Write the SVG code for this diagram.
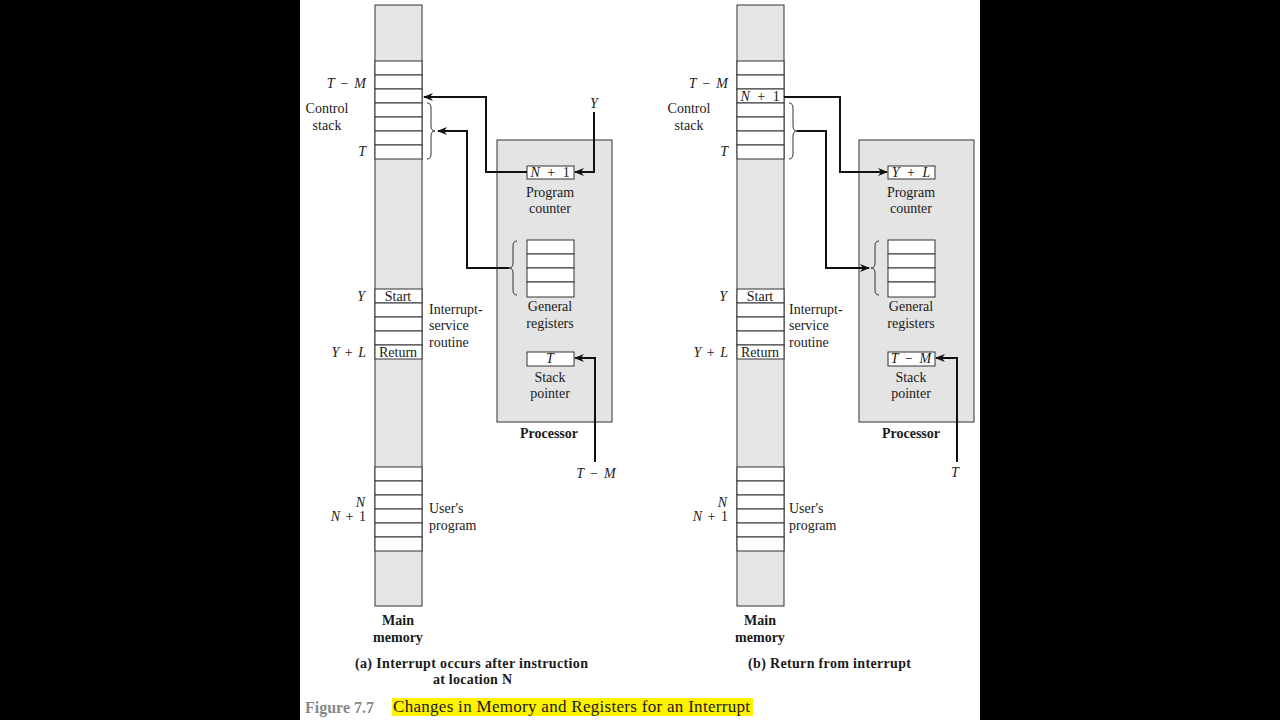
<svg xmlns="http://www.w3.org/2000/svg" width="1280" height="720" viewBox="0 0 1280 720">
<defs>
<style>
text{font-family:"Liberation Serif","Times New Roman",serif;font-size:14px;fill:#1a1a1a}
.b{font-weight:bold}
.i{font-style:italic}
.m{text-anchor:middle}
.e{text-anchor:end}
.mem{fill:#e6e6e6;stroke:#333;stroke-width:1}
.cell{fill:#fff;stroke:#333;stroke-width:1}
.proc{fill:#e4e4e4;stroke:#333;stroke-width:1}
.brace{fill:none;stroke:#333;stroke-width:1}
.wire{fill:none;stroke:#111;stroke-width:2;marker-end:url(#ah)}
</style>
<marker id="ah" viewBox="0 0 10 8" refX="9" refY="4" markerWidth="10" markerHeight="8" markerUnits="userSpaceOnUse" orient="auto">
<path d="M0,0 L10,4 L0,8 L3,4 Z" fill="#111"/>
</marker>
</defs>
<rect x="0" y="0" width="1280" height="720" fill="#000"/>
<rect x="300" y="0" width="680" height="720" fill="#fff"/>

<!-- ===== Panel (a) ===== -->
<g id="memory-a">
<rect class="mem" x="375" y="5" width="47" height="601"/>
<rect class="cell" x="375" y="61" width="47" height="14"/>
<rect class="cell" x="375" y="75" width="47" height="14"/>
<rect class="cell" x="375" y="89" width="47" height="14"/>
<rect class="cell" x="375" y="103" width="47" height="14"/>
<rect class="cell" x="375" y="117" width="47" height="14"/>
<rect class="cell" x="375" y="131" width="47" height="14"/>
<rect class="cell" x="375" y="145" width="47" height="14"/>
<rect class="cell" x="375" y="289" width="47" height="14"/>
<rect class="cell" x="375" y="303" width="47" height="14"/>
<rect class="cell" x="375" y="317" width="47" height="14"/>
<rect class="cell" x="375" y="331" width="47" height="14"/>
<rect class="cell" x="375" y="345" width="47" height="14"/>
<rect class="cell" x="375" y="467" width="47" height="14"/>
<rect class="cell" x="375" y="481" width="47" height="14"/>
<rect class="cell" x="375" y="495" width="47" height="14"/>
<rect class="cell" x="375" y="509" width="47" height="14"/>
<rect class="cell" x="375" y="523" width="47" height="14"/>
<rect class="cell" x="375" y="537" width="47" height="14"/>
<text class="m" x="398" y="301">Start</text>
<text class="m" x="398" y="357">Return</text>
<text class="e" x="366" y="88"><tspan class="i">T</tspan><tspan dx="2.5"> − </tspan><tspan class="i" dx="2.5">M</tspan></text>
<text class="m" x="327" y="113">Control</text>
<text class="m" x="327" y="130">stack</text>
<text class="e i" x="366" y="156">T</text>
<text class="e i" x="365" y="301">Y</text>
<text class="e" x="366" y="357"><tspan class="i">Y</tspan><tspan dx="2"> + </tspan><tspan class="i" dx="2">L</tspan></text>
<text class="e i" x="365" y="507">N</text>
<text class="e" x="366" y="521"><tspan class="i">N</tspan><tspan dx="2"> + </tspan><tspan dx="2">1</tspan></text>
<text x="429" y="314">Interrupt-</text>
<text x="429" y="330">service</text>
<text x="429" y="347">routine</text>
<text x="429" y="513">User's</text>
<text x="429" y="530">program</text>
<text class="b m" x="398" y="625">Main</text>
<text class="b m" x="398" y="642">memory</text>
<path class="brace" d="M427,103 q4,0 4,5 v18 q0,5 4,5 q-4,0 -4,5 v18 q0,5 -4,5"/>
</g>

<g id="processor-a">
<rect class="proc" x="497" y="140" width="115" height="282"/>
<rect class="cell" x="527" y="166" width="47" height="13"/>
<text class="m" x="550" y="177"><tspan class="i">N</tspan><tspan dx="4"> + </tspan><tspan dx="4">1</tspan></text>
<text class="m" x="550" y="197">Program</text>
<text class="m" x="550" y="213">counter</text>
<rect class="cell" x="527" y="240" width="47" height="14"/>
<rect class="cell" x="527" y="254" width="47" height="14"/>
<rect class="cell" x="527" y="268" width="47" height="14"/>
<rect class="cell" x="527" y="282" width="47" height="15"/>
<path class="brace" d="M517,241 q-4,0 -4,5 v17 q0,5 -4,5 q4,0 4,5 v17 q0,5 4,5"/>
<text class="m" x="550" y="311">General</text>
<text class="m" x="550" y="328">registers</text>
<rect class="cell" x="527" y="352" width="47" height="14"/>
<text class="m i" x="550" y="363">T</text>
<text class="m" x="550" y="382">Stack</text>
<text class="m" x="550" y="398">pointer</text>
<text class="b m" x="549" y="438">Processor</text>
</g>
<text class="i m" x="594" y="108">Y</text>
<text class="m" x="596" y="478"><tspan class="i">T</tspan><tspan dx="2.5"> − </tspan><tspan class="i" dx="2.5">M</tspan></text>
<text class="b" x="355" y="668" textLength="233" lengthAdjust="spacing">(a)  Interrupt occurs after instruction</text>
<text class="b" x="433" y="684" textLength="79" lengthAdjust="spacing">at location N</text>

<!-- ===== Panel (b) ===== -->
<g id="memory-b">
<rect class="mem" x="737" y="5" width="47" height="601"/>
<rect class="cell" x="737" y="61" width="47" height="14"/>
<rect class="cell" x="737" y="75" width="47" height="14"/>
<rect class="cell" x="737" y="89" width="47" height="14"/>
<rect class="cell" x="737" y="103" width="47" height="14"/>
<rect class="cell" x="737" y="117" width="47" height="14"/>
<rect class="cell" x="737" y="131" width="47" height="14"/>
<rect class="cell" x="737" y="145" width="47" height="14"/>
<rect class="cell" x="737" y="289" width="47" height="14"/>
<rect class="cell" x="737" y="303" width="47" height="14"/>
<rect class="cell" x="737" y="317" width="47" height="14"/>
<rect class="cell" x="737" y="331" width="47" height="14"/>
<rect class="cell" x="737" y="345" width="47" height="14"/>
<rect class="cell" x="737" y="467" width="47" height="14"/>
<rect class="cell" x="737" y="481" width="47" height="14"/>
<rect class="cell" x="737" y="495" width="47" height="14"/>
<rect class="cell" x="737" y="509" width="47" height="14"/>
<rect class="cell" x="737" y="523" width="47" height="14"/>
<rect class="cell" x="737" y="537" width="47" height="14"/>
<text class="m" x="760" y="101"><tspan class="i">N</tspan><tspan dx="4"> + </tspan><tspan dx="4">1</tspan></text>
<text class="m" x="760" y="301">Start</text>
<text class="m" x="760" y="357">Return</text>
<text class="e" x="728" y="88"><tspan class="i">T</tspan><tspan dx="2.5"> − </tspan><tspan class="i" dx="2.5">M</tspan></text>
<text class="m" x="689" y="113">Control</text>
<text class="m" x="689" y="130">stack</text>
<text class="e i" x="728" y="156">T</text>
<text class="e i" x="727" y="301">Y</text>
<text class="e" x="728" y="357"><tspan class="i">Y</tspan><tspan dx="2"> + </tspan><tspan class="i" dx="2">L</tspan></text>
<text class="e i" x="727" y="507">N</text>
<text class="e" x="728" y="521"><tspan class="i">N</tspan><tspan dx="2"> + </tspan><tspan dx="2">1</tspan></text>
<text x="789" y="314">Interrupt-</text>
<text x="789" y="330">service</text>
<text x="789" y="347">routine</text>
<text x="789" y="513">User's</text>
<text x="789" y="530">program</text>
<text class="b m" x="760" y="625">Main</text>
<text class="b m" x="760" y="642">memory</text>
<path class="brace" d="M789,103 q4,0 4,5 v18 q0,5 4,5 q-4,0 -4,5 v18 q0,5 -4,5"/>
</g>

<g id="processor-b">
<rect class="proc" x="859" y="140" width="115" height="282"/>
<rect class="cell" x="888" y="166" width="47" height="13"/>
<text class="m" x="911" y="177"><tspan class="i">Y</tspan><tspan dx="4"> + </tspan><tspan class="i" dx="4">L</tspan></text>
<text class="m" x="911" y="197">Program</text>
<text class="m" x="911" y="213">counter</text>
<rect class="cell" x="888" y="240" width="47" height="14"/>
<rect class="cell" x="888" y="254" width="47" height="14"/>
<rect class="cell" x="888" y="268" width="47" height="14"/>
<rect class="cell" x="888" y="282" width="47" height="15"/>
<path class="brace" d="M879,241 q-4,0 -4,5 v17 q0,5 -4,5 q4,0 4,5 v17 q0,5 4,5"/>
<text class="m" x="911" y="311">General</text>
<text class="m" x="911" y="328">registers</text>
<rect class="cell" x="888" y="352" width="47" height="14"/>
<text class="m" x="911" y="363"><tspan class="i">T</tspan><tspan dx="3"> − </tspan><tspan class="i" dx="3">M</tspan></text>
<text class="m" x="911" y="382">Stack</text>
<text class="m" x="911" y="398">pointer</text>
<text class="b m" x="911" y="438">Processor</text>
</g>
<text class="i m" x="955" y="477">T</text>
<text class="b" x="748" y="668" textLength="163" lengthAdjust="spacing">(b)  Return from interrupt</text>

<g id="connectors">
<path class="wire" d="M527,172 H486 V97 H424"/>
<path class="wire" d="M509,268 H467 V131 H438"/>
<path class="wire" d="M594,112 V172 H575"/>
<path class="wire" d="M595,462 V358 H575"/>
<path class="wire" d="M784,97 H840 V172 H887"/>
<path class="wire" d="M797,131 H826 V268 H869"/>
<path class="wire" d="M957,462 V358 H936"/>
</g>

<g id="caption">
<rect x="392" y="698" width="361" height="18" fill="#fff200"/>
<text class="b" x="305" y="713" style="font-size:16px;fill:#888">Figure 7.7</text>
<text x="393" y="712" style="font-size:17px" textLength="357" lengthAdjust="spacing">Changes in Memory and Registers for an Interrupt</text>
</g>
</svg>
